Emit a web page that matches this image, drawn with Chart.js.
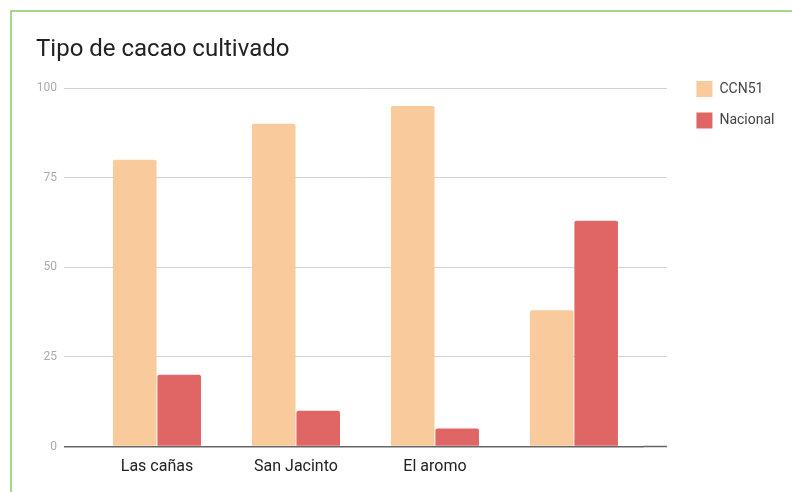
<!DOCTYPE html>
<html>
<head>
<meta charset="utf-8">
<script src="https://cdn.jsdelivr.net/npm/chart.js@4"></script>
<style>
  body { margin: 0; background: #fff; overflow: hidden; }
  #marco { position: absolute; left: 10px; top: 10px; width: 800px; height: 500px; border: 2px solid #a6d48e; }
  #grafico { position: absolute; left: 0; top: 0; }
</style>
</head>
<body>
<div id="marco"></div>
<canvas id="grafico" width="792" height="492"></canvas>
<script>
// Datos del gráfico
const categorias = ['Las cañas', 'San Jacinto', 'El aromo', ''];
const ccn51 = [80, 90, 95, 38];
const nacional = [20, 10, 5, 63];
const ticksY = [0, 25, 50, 75, 100];

Chart.defaults.font.family = 'Roboto';

// color de la línea de cuadrícula (la de 0 es más oscura)
const colorGrid = ctx => (ctx.tick && ctx.tick.value === 0) ? '#666' : '#d3d3d3';
const anchoGrid = ctx => (ctx.tick && ctx.tick.value === 0) ? 1.5 : 1;

const ctx = document.getElementById('grafico').getContext('2d');
new Chart(ctx, {
    type: 'bar',
    data: {
        labels: categorias,
        datasets: [{
            label: 'CCN51',
            data: ccn51,
            backgroundColor: '#f9cb9c',
            borderRadius: 2,
            borderSkipped: 'start'
        }, {
            label: 'Nacional',
            data: nacional,
            backgroundColor: '#e06666',
            borderRadius: 2,
            borderSkipped: 'start'
        }]
    },
    options: {
        responsive: false,
        animation: false,
        datasets: {
            bar: { categoryPercentage: 0.64, barPercentage: 0.98 }
        },
        layout: { padding: { left: 36, right: 7.5, top: 0, bottom: 0 } },
        plugins: {
            title: {
                display: true,
                text: 'Tipo de cacao cultivado',
                align: 'start',
                color: '#222',
                font: { size: 24, weight: 'normal' },
                padding: { top: 35.6, bottom: 23.6 }
            },
            legend: {
                position: 'right',
                align: 'start',
                title: { display: true, text: '', font: { size: 12 }, padding: { top: 51.1, bottom: 0 } },
                labels: {
                    boxWidth: 16,
                    boxHeight: 16,
                    padding: 15.5,
                    color: '#444',
                    font: { size: 14 }
                }
            },
            tooltip: { enabled: false }
        },
        scales: {
            x: {
                grid: { display: false },
                border: { display: false },
                ticks: { color: '#222', font: { size: 16 }, padding: 3 },
                afterFit: s => { s.height = 45.5; }
            },
            y: {
                min: 0,
                max: 100,
                afterBuildTicks: s => { s.ticks = ticksY.map(v => ({ value: v })); },
                border: { display: false },
                grid: { color: colorGrid, tickColor: colorGrid, lineWidth: anchoGrid, tickWidth: anchoGrid, tickLength: 23.5 },
                ticks: { color: '#ababab', font: { size: 12 }, padding: 7 },
                afterFit: s => { s.width = 51.5; }
            },
            y2: {
                position: 'right',
                min: 0,
                max: 100,
                afterBuildTicks: s => { s.ticks = ticksY.map(v => ({ value: v })); },
                border: { display: false },
                grid: { drawOnChartArea: false, tickColor: colorGrid, tickWidth: anchoGrid, tickLength: 23.5 },
                ticks: { display: false },
                afterFit: s => { s.width = 37.5; }
            }
        }
    }
});
</script>
</body>
</html>
